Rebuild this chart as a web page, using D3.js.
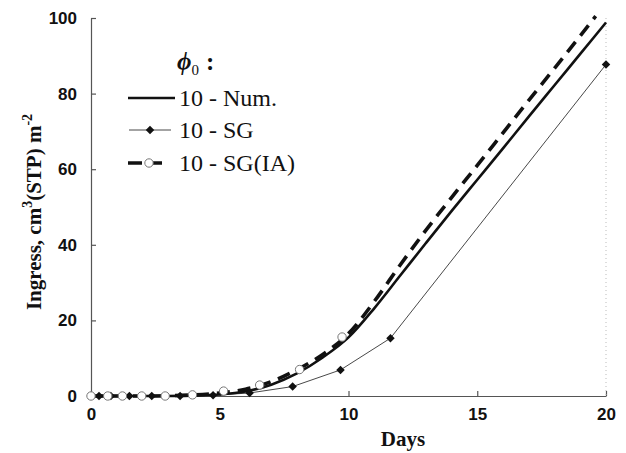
<!DOCTYPE html>
<html><head><meta charset="utf-8">
<script src="https://cdn.jsdelivr.net/npm/d3@7"></script>
<style>body{margin:0;background:#fff}svg{display:block}</style>
</head><body><svg id="c" width="626" height="453"></svg>
<script>
const xTicks = [0, 5, 10, 15, 20];
const yTicks = [0, 20, 40, 60, 80, 100];
const seriesNames = ["10 - Num.", "10 - SG", "10 - SG(IA)"];
// 10 - Num. (solid curve)
const numDays   = [0, 1, 2, 3, 4, 5, 6, 7, 8, 9, 10, 11, 12, 13, 14, 15, 16, 17, 18, 19, 20];
const numValues = [0, 0, 0, 0, 0.1, 0.4, 1.2, 3, 6.0, 10.2, 15.5, 23.2, 31.8, 40.4, 48.9, 57.2, 65.5, 73.9, 82.2, 90.5, 98.8];
// 10 - SG (diamonds)
const sgDays   = [0, 0.31, 0.77, 1.49, 2.36, 3.46, 4.74, 6.16, 7.83, 9.69, 11.63, 20];
const sgValues = [0, 0, 0, 0, 0, 0, 0.2, 0.8, 2.5, 6.9, 15.3, 87.7];
// 10 - SG(IA) (dashed curve + open circles)
const sgiaDays   = [0, 2, 4, 5, 6, 7, 8, 9, 10, 11, 12, 13, 14, 15, 16, 17, 18, 19, 19.6];
const sgiaValues = [0, 0, 0.3, 0.8, 1.8, 3.8, 7.0, 11.0, 16.5, 25.0, 34.6, 43.8, 52.5, 61, 69.6, 78.2, 86.7, 95.3, 100.5];
const sgiaMarkDays   = [0, 0.65, 1.22, 1.97, 2.88, 3.94, 5.15, 6.55, 8.1, 9.75];
const sgiaMarkValues = [0, 0, 0, 0, 0, 0.3, 1.3, 2.9, 7.0, 15.6];

const svg = d3.select("#c");
const x = d3.scaleLinear().domain([0, 20]).range([91, 606]);
const y = d3.scaleLinear().domain([0, 100]).range([396, 18]);
const axisCol = "#555";

// axes
const gx = svg.append("g").attr("transform", "translate(0,396)")
  .call(d3.axisBottom(x).tickValues(xTicks).tickSizeInner(-5).tickSizeOuter(0).tickPadding(12));
const gy = svg.append("g").attr("transform", "translate(91,0)")
  .call(d3.axisLeft(y).tickValues(yTicks).tickSizeInner(-5).tickSizeOuter(0).tickPadding(14));
[gx, gy].forEach(g => {
  g.select(".domain").attr("stroke", axisCol).attr("stroke-width", 1.2);
  g.selectAll(".tick line").attr("stroke", axisCol).attr("stroke-width", 1.2);
  g.selectAll(".tick text").attr("fill", "#111").attr("font-family", "Liberation Sans, Arial, sans-serif")
    .attr("font-weight", "bold").attr("font-size", 17);
});
gx.selectAll(".tick text").attr("dy", "0.71em");
// faint dotted right edge
svg.append("line").attr("x1", x(20)).attr("x2", x(20)).attr("y1", y(100)).attr("y2", y(0))
  .attr("stroke", "#bbb").attr("stroke-width", 1).attr("stroke-dasharray", "1,3");

const line = d3.line().x(d => x(d[0])).y(d => y(d[1])).curve(d3.curveMonotoneX);
const numData = numDays.map((d, i) => [d, numValues[i]]);
const sgData = sgDays.map((d, i) => [d, sgValues[i]]);
const sgiaData = sgiaDays.map((d, i) => [d, sgiaValues[i]]);
const sgiaMarks = sgiaMarkDays.map((d, i) => [d, sgiaMarkValues[i]]);

svg.append("path").datum(sgData).attr("fill", "none").attr("stroke", "#333").attr("stroke-width", 0.9)
  .attr("d", d3.line().x(d => x(d[0])).y(d => y(d[1])));
svg.append("path").datum(numData).attr("fill", "none").attr("stroke", "#111").attr("stroke-width", 2.6).attr("d", line);
svg.append("path").datum(sgiaData).attr("fill", "none").attr("stroke", "#111").attr("stroke-width", 3.6)
  .attr("stroke-dasharray", "13,8").attr("d", line);

const sq = d3.symbol().type(d3.symbolSquare).size(36);
svg.selectAll(".sgm").data(sgData).join("path").attr("class", "sgm")
  .attr("d", sq).attr("transform", d => `translate(${x(d[0])},${y(d[1])}) rotate(45)`)
  .attr("fill", "#111");
svg.selectAll(".iam").data(sgiaMarks).join("circle").attr("class", "iam")
  .attr("cx", d => x(d[0])).attr("cy", d => y(d[1])).attr("r", 4.2)
  .attr("fill", "#fff").attr("stroke", "#777").attr("stroke-width", 1);

// axis titles
const serif = "Liberation Serif, Times New Roman, serif";
svg.append("text").attr("x", 403).attr("y", 446).attr("text-anchor", "middle")
  .attr("font-family", serif).attr("font-weight", "bold").attr("font-size", 21)
  .attr("fill", "#111").text("Days");
const yt = svg.append("text").attr("transform", "translate(41,212) rotate(-90)").attr("text-anchor", "middle")
  .attr("font-family", serif).attr("font-weight", "bold").attr("font-size", 21)
  .attr("fill", "#111");
yt.append("tspan").text("Ingress, cm");
yt.append("tspan").attr("font-size", 14).attr("dy", -9).text("3");
yt.append("tspan").attr("dy", 9).text("(STP) m");
yt.append("tspan").attr("font-size", 14).attr("dy", -9).text("-2");

// legend
const phi = svg.append("text").attr("x", 177).attr("y", 70).attr("font-family", serif)
  .attr("font-weight", "bold").attr("font-style", "italic").attr("font-size", 25).attr("fill", "#111");
phi.append("tspan").text("\u03D5");
phi.append("tspan").attr("font-size", 15).attr("dy", 5).attr("font-style", "normal").attr("font-weight", "normal").text("0");
phi.append("tspan").attr("dy", -5).attr("font-style", "normal").attr("dx", 7).text(":");

const legY = [98, 130, 163];
svg.append("line").attr("x1", 128).attr("x2", 175).attr("y1", legY[0]).attr("y2", legY[0])
  .attr("stroke", "#111").attr("stroke-width", 2.6);
svg.append("line").attr("x1", 129).attr("x2", 171).attr("y1", legY[1]).attr("y2", legY[1])
  .attr("stroke", "#333").attr("stroke-width", 0.9);
svg.append("path").attr("d", sq())
  .attr("transform", `translate(150,${legY[1]}) rotate(45)`).attr("fill", "#111");
svg.append("line").attr("x1", 128).attr("x2", 167).attr("y1", legY[2]).attr("y2", legY[2])
  .attr("stroke", "#111").attr("stroke-width", 3.4).attr("stroke-dasharray", "14,6");
svg.append("circle").attr("cx", 149).attr("cy", legY[2]).attr("r", 4.2).attr("fill", "#fff")
  .attr("stroke", "#777").attr("stroke-width", 1);
seriesNames.forEach((n, i) => {
  svg.append("text").attr("x", 179).attr("y", legY[i] + 8).attr("font-family", serif)
    .attr("font-size", 24).attr("fill", "#111").text(n);
});
</script></body></html>
